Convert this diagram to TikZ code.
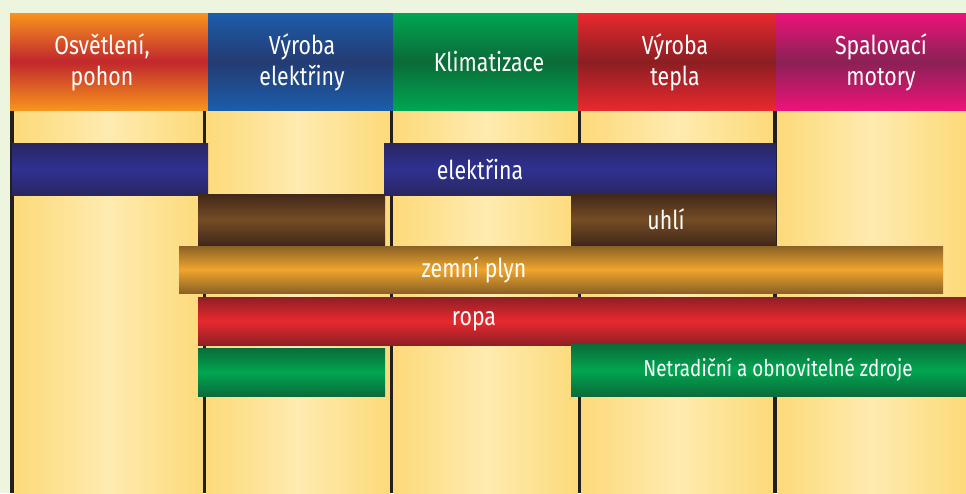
\documentclass[tikz,border=0pt]{standalone}
\usepackage{fontspec}
\setmainfont{Fira Sans}[FakeStretch=0.82]
\usepackage{tikz}

\definecolor{bgc}{HTML}{EEF5DE}
\definecolor{lnc}{HTML}{231F20}
\definecolor{yelE}{HTML}{FDDA7A}
\definecolor{yelC}{HTML}{FEEBB0}
% header colours (edge / band)
\definecolor{orE}{HTML}{F7941D}\definecolor{orM}{HTML}{C1272D}
\definecolor{blE}{HTML}{1C5DAA}\definecolor{blM}{HTML}{243B72}
\definecolor{grE}{HTML}{00A651}\definecolor{grM}{HTML}{0A6B38}
\definecolor{rdE}{HTML}{E8292E}\definecolor{rdM}{HTML}{8B1E22}
\definecolor{mgE}{HTML}{EC137A}\definecolor{mgM}{HTML}{8A2155}
% bar colours (edge / centre)
\definecolor{elE}{HTML}{2A2660}\definecolor{elM}{HTML}{2E3192}
\definecolor{uhE}{HTML}{42281A}\definecolor{uhM}{HTML}{754C24}
\definecolor{plE}{HTML}{8A6226}\definecolor{plM}{HTML}{F0A42D}
\definecolor{roE}{HTML}{8E1F25}\definecolor{roM}{HTML}{E8292E}
\definecolor{obE}{HTML}{0B6B3A}\definecolor{obM}{HTML}{00A651}

\tikzset{
  band/.style 2 args={top color=#1, bottom color=#1, middle color=#2},
  panel/.style={left color=yelE, right color=yelE, middle color=yelC},
  sep/.style={draw=lnc, line width=3.5pt},
  lbl/.style={text=white, font=\fontsize{26}{31}\selectfont, align=center, inner sep=0pt},
  smalllbl/.style={lbl, font=\fontsize{23}{27}\selectfont},
}

\begin{document}
\begin{tikzpicture}[x=1pt,y=-1pt]
      \useasboundingbox (0,0) rectangle (966,493);
      \fill[bgc] (0,0) rectangle (966,493);
      % columns
      \shade[panel] (14,110) rectangle (203,493);
      \shade[panel] (206,110) rectangle (390,493);
      \shade[panel] (393,110) rectangle (578,493);
      \shade[panel] (581,110) rectangle (773,493);
      \shade[panel] (777,110) rectangle (966,493);
      \draw[sep] (12,110) -- (12,493);
      \draw[sep] (204.5,110) -- (204.5,493);
      \draw[sep] (391.5,110) -- (391.5,493);
      \draw[sep] (579.5,110) -- (579.5,493);
      \draw[sep] (775,110) -- (775,493);
      % headers
      \shade[band={orE}{orM}] (10,13) rectangle (208,110);
      \shade[band={blE}{blM}] (208,13) rectangle (393,110);
      \shade[band={grE}{grM}] (393,13) rectangle (578,110);
      \shade[band={rdE}{rdM}] (578,13) rectangle (776,110);
      \shade[band={mgE}{mgM}] (776,13) rectangle (966,110);
      \node[lbl] (light) at (102,62) {Osvětlení,\\pohon};
      \node[lbl] (power) at (302,62) {Výroba\\elektřiny};
      \node[lbl] (clim) at (489,62) {Klimatizace};
      \node[lbl] (heat) at (675,62) {Výroba\\tepla};
      \node[lbl] (motor) at (881,62) {Spalovací\\motory};
      % bars
      \shade[band={elE}{elM}] (12,143) rectangle (208,195);
      \shade[band={elE}{elM}] (384,143) rectangle (776,195);
      \shade[band={uhE}{uhM}] (198,194) rectangle (385,245);
      \shade[band={uhE}{uhM}] (571,194) rectangle (776,245);
      \shade[band={plE}{plM}] (179,246) rectangle (943,293);
      \shade[band={roE}{roM}] (198,297) rectangle (966,345);
      \shade[band={obE}{obM}] (198,348) rectangle (385,396);
      \shade[band={obE}{obM}] (571,344) rectangle (966,396);
      \node[lbl] (elec) at (480,169) {elektřina};
      \node[lbl] (coal) at (666,219) {uhlí};
      \node[lbl] (gas) at (474,270) {zemní plyn};
      \node[lbl] (oil) at (474,321) {ropa};
      \node[smalllbl] (renew) at (778,370) {Netradiční a obnovitelné zdroje};
\end{tikzpicture}
\end{document}
